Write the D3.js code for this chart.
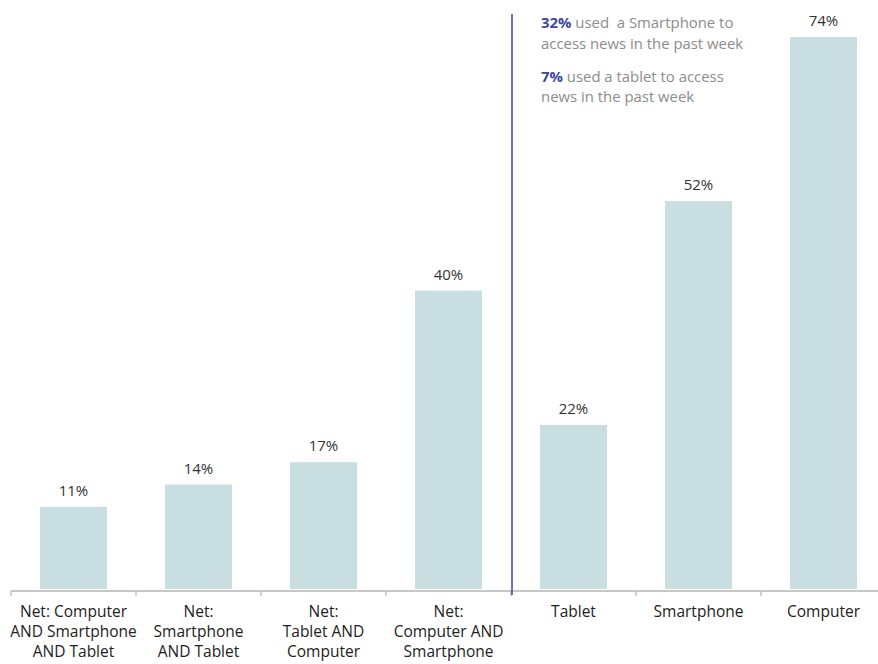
<!DOCTYPE html>
<html>
<head>
<meta charset="utf-8">
<script src="https://cdn.jsdelivr.net/npm/d3@7"></script>
<style>
  html, body { margin: 0; padding: 0; background: #fff; }
  svg { display: block; font-family: "Open Sans", sans-serif; }
</style>
</head>
<body>
<svg id="chart" width="878" height="664"></svg>
<script>
const categories = [
  "Net: Computer\nAND Smartphone\nAND Tablet",
  "Net:\nSmartphone\nAND Tablet",
  "Net:\nTablet AND\nComputer",
  "Net:\nComputer AND\nSmartphone",
  "Tablet",
  "Smartphone",
  "Computer"
];
const values = [11, 14, 17, 40, 22, 52, 74];
const valueLabels = ["11%", "14%", "17%", "40%", "22%", "52%", "74%"];
const dividerAfter = 4; // divider between "Net" group and single devices
const notes = [
  [{ t: "32%", b: true }, { t: " used  a Smartphone to", b: false }],
  [{ t: "access news in the past week", b: false }],
  [{ t: "7%", b: true }, { t: " used a tablet to access", b: false }],
  [{ t: "news in the past week", b: false }]
];

const svg = d3.select("#chart");
const baseY = 589;

const x = d3.scaleBand()
  .domain(categories)
  .range([11, 886])
  .paddingInner(0.464)
  .paddingOuter(0.232);

const y = d3.scaleLinear()
  .domain([0, d3.max(values)])
  .range([baseY, 37]);

const data = categories.map((c, i) => ({ c, v: values[i], l: valueLabels[i] }));
const step = x.step();
const gap = (step - x.bandwidth()) / 2;

// bars
svg.append("g").selectAll("rect")
  .data(data)
  .join("rect")
  .attr("x", d => x(d.c))
  .attr("y", d => y(d.v))
  .attr("width", x.bandwidth())
  .attr("height", d => baseY - y(d.v))
  .attr("fill", "#c8dee1");

// value labels
svg.append("g").selectAll("text")
  .data(data)
  .join("text")
  .attr("x", d => x(d.c) + x.bandwidth() / 2)
  .attr("y", d => y(d.v) - 11)
  .attr("text-anchor", "middle")
  .attr("font-size", 15)
  .attr("fill", "#333")
  .text(d => d.l);

// axis line
const axisY = 591;
svg.append("line")
  .attr("x1", 11).attr("x2", 878)
  .attr("y1", axisY).attr("y2", axisY)
  .attr("stroke", "#b4b4b4").attr("stroke-width", 1.5);

// ticks at band boundaries
svg.append("g").selectAll("line")
  .data(categories)
  .join("line")
  .attr("x1", d => x(d) - gap)
  .attr("x2", d => x(d) - gap)
  .attr("y1", axisY)
  .attr("y2", axisY + 5)
  .attr("stroke", "#b4b4b4").attr("stroke-width", 1.2);

// category labels
const lab = svg.append("g").selectAll("text")
  .data(categories)
  .join("text")
  .attr("text-anchor", "middle")
  .attr("font-size", 15.5)
  .attr("fill", "#222")
  .attr("transform", d => `translate(${x(d) + x.bandwidth() / 2},617)`);
lab.selectAll("tspan")
  .data(d => d.split("\n"))
  .join("tspan")
  .attr("x", 0)
  .attr("y", (d, i) => i * 20)
  .text(d => d);

// divider
const divX = x(categories[dividerAfter]) - gap + 1;
svg.append("line")
  .attr("x1", divX).attr("x2", divX)
  .attr("y1", 14).attr("y2", 595)
  .attr("stroke", "#3d48a3").attr("stroke-width", 1.5);

// annotation
const noteY = [28, 49, 82, 102];
const noteG = svg.append("g");
notes.forEach((line, i) => {
  const t = noteG.append("text")
    .attr("x", 541)
    .attr("y", noteY[i])
    .attr("font-size", 14.9)
    .attr("xml:space", "preserve")
    .style("white-space", "pre");
  line.forEach(seg => {
    t.append("tspan")
      .attr("fill", seg.b ? "#3d48a3" : "#8c8c8c")
      .attr("font-weight", seg.b ? 700 : 400)
      .text(seg.t);
  });
});
</script>
</body>
</html>
